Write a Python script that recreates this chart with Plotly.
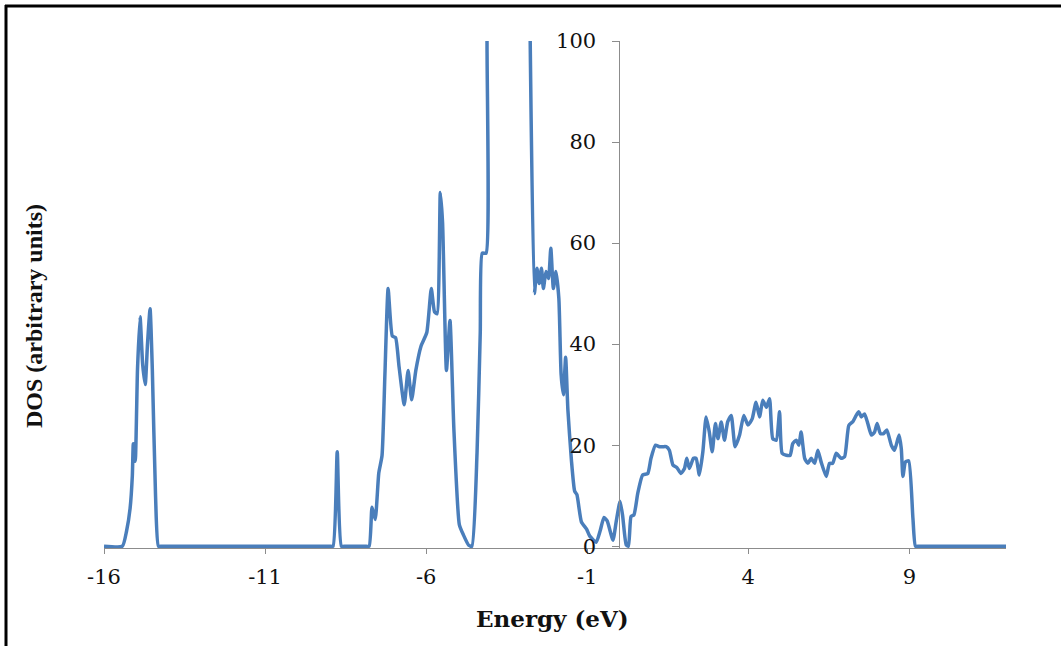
import plotly.graph_objects as go

# Energy (eV) and DOS (arbitrary units)
energy = [
    -16.0, -15.43, -15.3, -15.19, -15.12, -15.09, -15.03, -14.96, -14.88, -14.80,
    -14.72, -14.65, -14.57, -14.50, -14.40, -14.31, -14.2,
    -9.0, -8.89, -8.76, -8.63, -8.5,
    -7.9, -7.77, -7.68, -7.58, -7.47, -7.37, -7.28, -7.18, -7.05, -6.95, -6.84,
    -6.68, -6.56, -6.45, -6.32, -6.16, -5.98, -5.84, -5.74, -5.66, -5.56,
    -5.49, -5.37, -5.26, -5.14, -4.97, -4.84, -4.68, -4.58, -4.42, -4.32,
    -4.26, -4.14, -4.11, -4.07, -2.84, -2.77, -2.64, -2.56, -2.49, -2.42, -2.36, -2.28,
    -2.20, -2.13, -2.05, -1.97, -1.88, -1.81, -1.74, -1.67, -1.60, -1.49,
    -1.39, -1.32, -1.18, -1.02, -0.92, -0.72, -0.60, -0.48, -0.38, -0.20,
    -0.10, 0.02, 0.10, 0.21, 0.28, 0.36, 0.45, 0.57, 0.72, 0.88,
    0.98, 1.12, 1.24, 1.35, 1.45, 1.55, 1.66, 1.78, 1.91, 2.02,
    2.09, 2.17, 2.30, 2.38, 2.48, 2.59, 2.69, 2.79, 2.88, 2.98,
    3.06, 3.16, 3.26, 3.36, 3.47, 3.59, 3.73, 3.86, 3.99, 4.12,
    4.24, 4.35, 4.45, 4.56, 4.66, 4.76, 4.87, 4.97, 5.05, 5.18,
    5.30, 5.38, 5.49, 5.57, 5.64, 5.75, 5.85, 5.95, 6.06, 6.16,
    6.26, 6.42, 6.52, 6.62, 6.73, 6.88, 6.99, 7.12, 7.25, 7.35,
    7.43, 7.51, 7.61, 7.71, 7.82, 7.92, 8.00, 8.10, 8.20, 8.30,
    8.44, 8.54, 8.68, 8.75, 8.80, 8.88, 8.98, 9.11, 9.19, 9.3, 11.9, 12.0,
]
dos = [
    0, 0, 3, 7.5, 14, 20.3, 16.8, 35, 45.4, 36,
    32, 40, 47, 35, 10, 0, 0,
    0, 0, 18.7, 0, 0,
    0, 0, 7.7, 5.3, 14.5, 17.9, 34, 51, 41.6, 41.3, 35.5,
    28, 34.8, 29, 34.8, 39.6, 42.3, 51, 46.4, 46, 70,
    64, 34.8, 44.7, 23.3, 4.3, 2.2, 0.2, 0, 18.5, 42.3,
    58, 58, 100, 180, 180, 100, 50, 55, 52, 55, 51, 54.4,
    53, 59, 51, 54.4, 49, 34, 30, 37.4, 27, 17,
    10.9, 10.2, 4.8, 3.4, 2.0, 0.8, 3, 5.7, 5, 1.2,
    4.9, 8.9, 6, 0.3, 0, 5.9, 6.2, 10.5, 14.1, 14.4,
    17.4, 20, 19.7, 19.7, 19.7, 19, 16.1, 15.6, 14.4, 15.4,
    17.4, 15.4, 17.4, 17.4, 14.1, 18.7, 25.6, 22.6, 18.7, 24.3,
    21.3, 24.6, 21, 24.6, 25.9, 19.7, 22, 25.9, 24, 25.2,
    28.5, 25.6, 28.9, 27.5, 29.2, 21.3, 21, 26.6, 18.4, 18,
    18, 20.3, 21, 20, 22.6, 17.4, 16.4, 17.4, 16.4, 19,
    16.7, 13.8, 16.4, 16.4, 18.4, 17.4, 17.7, 23.9, 24.7, 25.9,
    26.6, 25.6, 26.2, 24.3, 22, 22.6, 24.3, 22.3, 22.3, 23,
    20, 19, 22, 19.3, 13.8, 16.7, 16.9, 5.6, 0, 0, 0, 0,
]

x_ticks = [-16, -11, -6, -1, 4, 9]
y_ticks = [0, 20, 40, 60, 80, 100]
x_title = "Energy (eV)"
y_title = "DOS (arbitrary units)"

W, H = 1061, 646
L, R, T, B = 104, 55, 41, 98
pw, ph = W - L - R, H - T - B
x_min, x_max = -16, 12

def px_x(p):
    return (p - L) / pw

def px_y(p):
    return (H - B - p) / ph

fig = go.Figure()
fig.add_trace(go.Scatter(
    x=energy, y=dos, mode="lines",
    line=dict(color="#4A7EBB", width=3.5, shape="spline", smoothing=0.5),
    showlegend=False, hoverinfo="skip",
))

axis_grey = "#8C8C8C"
tick_font = dict(family="DejaVu Serif", size=21, color="#111111")

fig.update_layout(
    width=W, height=H,
    margin=dict(l=L, r=R, t=T, b=B),
    paper_bgcolor="white", plot_bgcolor="white",
    xaxis=dict(
        range=[x_min, x_max], tickmode="array", tickvals=x_ticks,
        ticktext=[str(v) for v in x_ticks],
        showgrid=False, zeroline=False, showline=True,
        linecolor=axis_grey, linewidth=1.2,
        ticks="outside", ticklen=5, tickcolor=axis_grey, tickwidth=1,
        tickfont=tick_font, ticklabelstandoff=5,
    ),
    yaxis=dict(
        range=[-0.35, 100], tickmode="array", tickvals=y_ticks,
        ticktext=[str(v) for v in y_ticks],
        anchor="free", position=(0 - x_min) / (x_max - x_min),
        showgrid=False, zeroline=False, showline=True,
        linecolor=axis_grey, linewidth=1.2,
        ticks="outside", ticklen=7, tickcolor=axis_grey, tickwidth=1,
        tickfont=tick_font, ticklabelstandoff=12,
    ),
    annotations=[
        dict(text="<b>" + x_title + "</b>", xref="paper", yref="paper",
             x=px_x(552), y=px_y(618), xanchor="center", yanchor="middle",
             showarrow=False,
             font=dict(family="DejaVu Serif", size=23, color="#111111")),
        dict(text="<b>" + y_title + "</b>", xref="paper", yref="paper",
             x=px_x(34), y=px_y(316), xanchor="center", yanchor="middle",
             textangle=-90, showarrow=False,
             font=dict(family="Liberation Serif", size=24, color="#111111")),
    ],
    shapes=[
        dict(type="line", xref="paper", yref="paper",
             x0=px_x(6), x1=px_x(6), y0=px_y(5), y1=px_y(700),
             line=dict(color="black", width=3)),
        dict(type="line", xref="paper", yref="paper",
             x0=px_x(5), x1=px_x(1100), y0=px_y(6), y1=px_y(6),
             line=dict(color="black", width=3)),
    ],
)

fig.write_html("out.html", config={"displayModeBar": False},
               post_script="document.body.style.margin='0';document.body.style.overflow='hidden';")
